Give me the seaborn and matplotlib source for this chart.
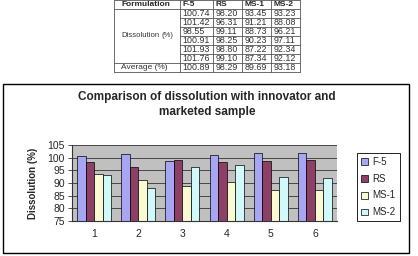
import pandas as pd
import numpy as np
import matplotlib
matplotlib.use("Agg")
import matplotlib.pyplot as plt
import matplotlib.patches as mpatches
import seaborn as sns

samples = ['1', '2', '3', '4', '5', '6']
formulations = ['F-5', 'RS', 'MS-1', 'MS-2']
f5 = [100.74, 101.42, 98.55, 100.91, 101.93, 101.76]
rs = [98.20, 96.31, 99.11, 98.25, 98.80, 99.10]
ms1 = [93.45, 91.21, 88.73, 90.23, 87.22, 87.34]
ms2 = [93.23, 88.08, 96.21, 97.11, 92.34, 92.12]
averages = ['100.89', '98.29', '89.69', '93.18']
colors = ['#9999FF', '#993366', '#FFFFCC', '#CCFFFF']


def main():
    df = pd.DataFrame({'Sample': samples, 'F-5': f5, 'RS': rs, 'MS-1': ms1, 'MS-2': ms2})
    long_df = df.melt(id_vars='Sample', var_name='Formulation', value_name='Dissolution')

    sns.set_theme(style='white')
    plt.rcParams['font.family'] = ['Liberation Sans', 'DejaVu Sans']

    W, H = 418, 256
    fig = plt.figure(figsize=(W / 100, H / 100), dpi=100)
    fig.patch.set_facecolor('white')

    # ---- table on top (pixel coords) ----
    tax = fig.add_axes([0, 0, 1, 1])
    tax.set_xlim(0, W)
    tax.set_ylim(H, 0)
    tax.axis('off')
    col_x = [114, 180, 213, 242, 271, 300]
    row_y = [-0.5 + 9 * i for i in range(9)]
    lc = '#555555'
    lw = 0.6
    for i, y in enumerate(row_y):
        if 1 < i < 7:
            tax.plot([col_x[1], col_x[-1]], [y, y], color=lc, lw=lw)
        else:
            tax.plot([col_x[0], col_x[-1]], [y, y], color=lc, lw=lw)
    for x in col_x:
        tax.plot([x, x], [row_y[0], row_y[-1]], color=lc, lw=lw)
    fs = 6.4
    tc = '#333333'
    tax.text(121, row_y[0] + 4.7, 'Formulation', fontsize=6, fontweight='bold', va='center')
    for j, name in enumerate(formulations):
        tax.text(col_x[j + 1] + 2.5, row_y[0] + 4.7, name, fontsize=6, fontweight='bold', va='center')
    series = [f5, rs, ms1, ms2]
    for i in range(6):
        for j in range(4):
            tax.text(col_x[j + 1] + 2.5, row_y[i + 1] + 4.7, f'{series[j][i]:.2f}',
                     fontsize=fs, va='center', color=tc)
    mid = (row_y[1] + row_y[7]) / 2
    tax.text(121, mid, 'Dissolution', fontsize=5.6, va='center', color=tc)
    tax.text(174, mid, '(%)', fontsize=5.6, va='center', ha='right', color=tc)
    tax.text(121, row_y[7] + 4.7, 'Average (%)', fontsize=6, va='center', color=tc)
    for j, a in enumerate(averages):
        tax.text(col_x[j + 1] + 2.5, row_y[7] + 4.7, a, fontsize=fs, va='center', color=tc)

    # chart border
    fig.patches.append(mpatches.Rectangle((3 / W, 1 - 253 / H), 406 / W, 169 / H,
                                          transform=fig.transFigure, fill=False,
                                          edgecolor='black', lw=1.0))

    # ---- bar chart ----
    ax = fig.add_axes([72 / W, 1 - 221 / H, 265 / W, 76 / H])
    ax.set_facecolor('#C0C0C0')
    sns.barplot(data=long_df, x='Sample', y='Dissolution', hue='Formulation',
                palette=colors, width=0.77, gap=0, edgecolor='black', linewidth=0.5,
                ax=ax, legend=True)
    ax.set_ylim(75, 105)
    ax.set_yticks(range(75, 106, 5))
    ax.set_axisbelow(True)
    ax.yaxis.grid(True, color='#333333', lw=0.6)
    ax.set_xlim(-0.5, 5.5)
    for s in ['top', 'right']:
        ax.spines[s].set_visible(False)
    for s in ['left', 'bottom']:
        ax.spines[s].set_color('#333333')
        ax.spines[s].set_linewidth(0.8)
    ax.set_xticks(np.arange(-0.5, 6, 1), minor=True)
    ax.tick_params(axis='x', which='major', length=0, labelsize=7.5, pad=6)
    ax.tick_params(axis='x', which='minor', length=3, color='#333333', width=0.6)
    ax.tick_params(axis='y', length=3, color='#333333', width=0.6, labelsize=7.5, pad=2, left=True)
    ax.set_xlabel('')
    ax.set_ylabel('Dissolution (%)', fontsize=7, fontweight='bold', labelpad=7)

    handles, labels = ax.get_legend_handles_labels()
    ax.legend(handles, labels, loc='upper left', bbox_to_anchor=(357 / W, 1 - 153 / H),
              bbox_transform=fig.transFigure, fontsize=7, frameon=True, fancybox=False,
              edgecolor='black', framealpha=1, handlelength=0.7, handleheight=0.7,
              handletextpad=0.5, labelspacing=0.7, borderpad=0.4, borderaxespad=0)
    ax.get_legend().get_frame().set_linewidth(0.6)

    fig.text(207 / W, 1 - 97 / H, 'Comparison of dissolution with innovator and',
             ha='center', va='center', fontsize=8.5, fontweight='bold')
    fig.text(207 / W, 1 - 112 / H, 'marketed sample',
             ha='center', va='center', fontsize=8.5, fontweight='bold')

    fig.savefig('out.png', dpi=100)


if __name__ == "__main__":
    main()
